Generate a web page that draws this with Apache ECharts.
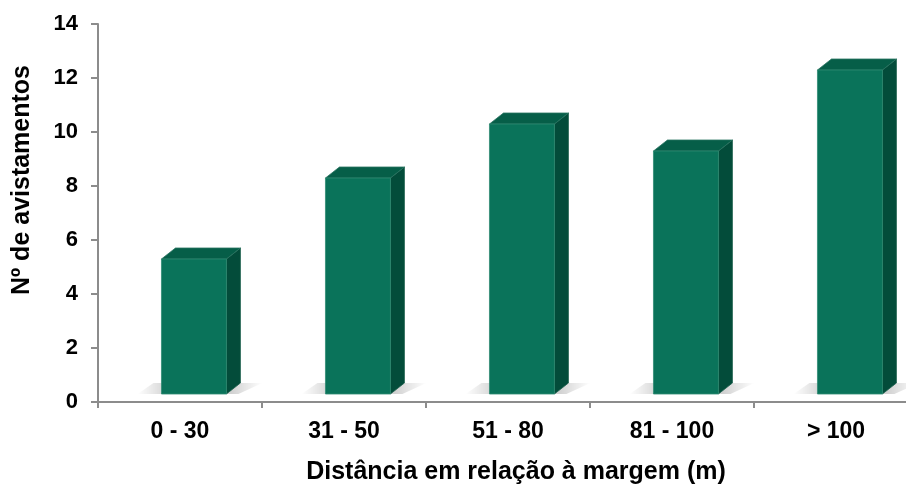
<!DOCTYPE html>
<html>
<head>
<meta charset="utf-8">
<script src="https://cdn.jsdelivr.net/npm/echarts@6/dist/echarts.min.js"></script>
<style>
  html, body { margin: 0; padding: 0; background: #fff; }
  #chart { width: 906px; height: 488px; }
</style>
</head>
<body>
<div id="chart"></div>
<script>
// dados
var categorias = ['0 - 30', '31 - 50', '51 - 80', '81 - 100', '> 100'];
var avistamentos = [5, 8, 10, 9, 12];
var yTicks = [0, 14, 2]; // min, max, intervalo

var FONT = 'Liberation Sans, Arial, sans-serif';
var myChart = echarts.init(document.getElementById('chart'));

// coluna 3D estilo Excel: face frontal, lateral, topo e sombra no chão
function renderBar3D(params, api) {
    var idx = api.value(0);
    var val = api.value(1);
    var top = api.coord([idx, val]);
    var base = api.coord([idx, 0]);
    var band = api.size([1, 0])[0];
    var lift = 8;             // a face frontal fica um pouco acima do eixo
    var w = band * 0.396;     // largura da face frontal
    var dx = 14, dy = 11;     // profundidade
    var x0 = top[0] - band * 0.113;
    var x1 = x0 + w;
    var yT = top[1] - lift;
    var yB = base[1] - lift;
    return {
        type: 'group',
        children: [
            {
                type: 'polygon',
                shape: { points: [[x0 - 24, yB], [x1 + 12, yB], [x1 + dx + 22, yB - dy], [x0 - 8, yB - dy]] },
                style: {
                    fill: new echarts.graphic.LinearGradient(0, 0, 1, 0, [
                        { offset: 0, color: 'rgba(0,0,0,0)' },
                        { offset: 0.3, color: 'rgba(0,0,0,0.22)' },
                        { offset: 0.75, color: 'rgba(0,0,0,0.18)' },
                        { offset: 1, color: 'rgba(0,0,0,0)' }
                    ])
                },
                silent: true
            },
            {
                type: 'polygon',
                shape: { points: [[x1, yT], [x1 + dx, yT - dy], [x1 + dx, yB - dy], [x1, yB]] },
                style: { fill: '#034c3a', stroke: '#1d5f4c', lineWidth: 0.8 }
            },
            {
                type: 'polygon',
                shape: { points: [[x0, yT], [x0 + dx, yT - dy], [x1 + dx, yT - dy], [x1, yT]] },
                style: { fill: '#065e48', stroke: '#2a7461', lineWidth: 0.8 }
            },
            {
                type: 'rect',
                shape: { x: x0, y: yT, width: w, height: yB - yT },
                style: { fill: '#0a735a', stroke: '#2f8a72', lineWidth: 0.8 }
            }
        ]
    };
}

var option = {
    animation: false,
    grid: { left: 98, width: 820, top: 24, height: 378, outerBoundsMode: 'none', containLabel: false },
    xAxis: {
        type: 'category',
        data: categorias,
        axisLine: { lineStyle: { color: '#8c8c8c', width: 2 } },
        axisTick: { show: true, length: 6, lineStyle: { color: '#8c8c8c', width: 2 } },
        axisLabel: { color: '#000', fontFamily: FONT, fontWeight: 'bold', fontSize: 23, margin: 18 }
    },
    yAxis: {
        type: 'value',
        min: yTicks[0],
        max: yTicks[1],
        interval: yTicks[2],
        splitLine: { show: false },
        axisLine: { show: true, lineStyle: { color: '#8c8c8c', width: 2 } },
        axisTick: { show: true, length: 7, lineStyle: { color: '#8c8c8c', width: 2 } },
        axisLabel: { color: '#000', fontFamily: FONT, fontWeight: 'bold', fontSize: 22, margin: 20 }
    },
    graphic: [
        {
            type: 'text',
            x: 516,
            y: 472,
            style: { text: 'Distância em relação à margem (m)', fill: '#000', font: 'bold 25px ' + FONT, align: 'center', verticalAlign: 'middle' }
        },
        {
            type: 'text',
            x: 22,
            y: 180,
            rotation: Math.PI / 2,
            style: { text: 'Nº de avistamentos', fill: '#000', font: 'bold 25px ' + FONT, align: 'center', verticalAlign: 'middle' }
        }
    ],
    series: [{
        type: 'custom',
        renderItem: renderBar3D,
        encode: { x: 0, y: 1 },
        data: avistamentos.map(function (v, i) { return [i, v]; })
    }]
};
myChart.setOption(option);
</script>
</body>
</html>
